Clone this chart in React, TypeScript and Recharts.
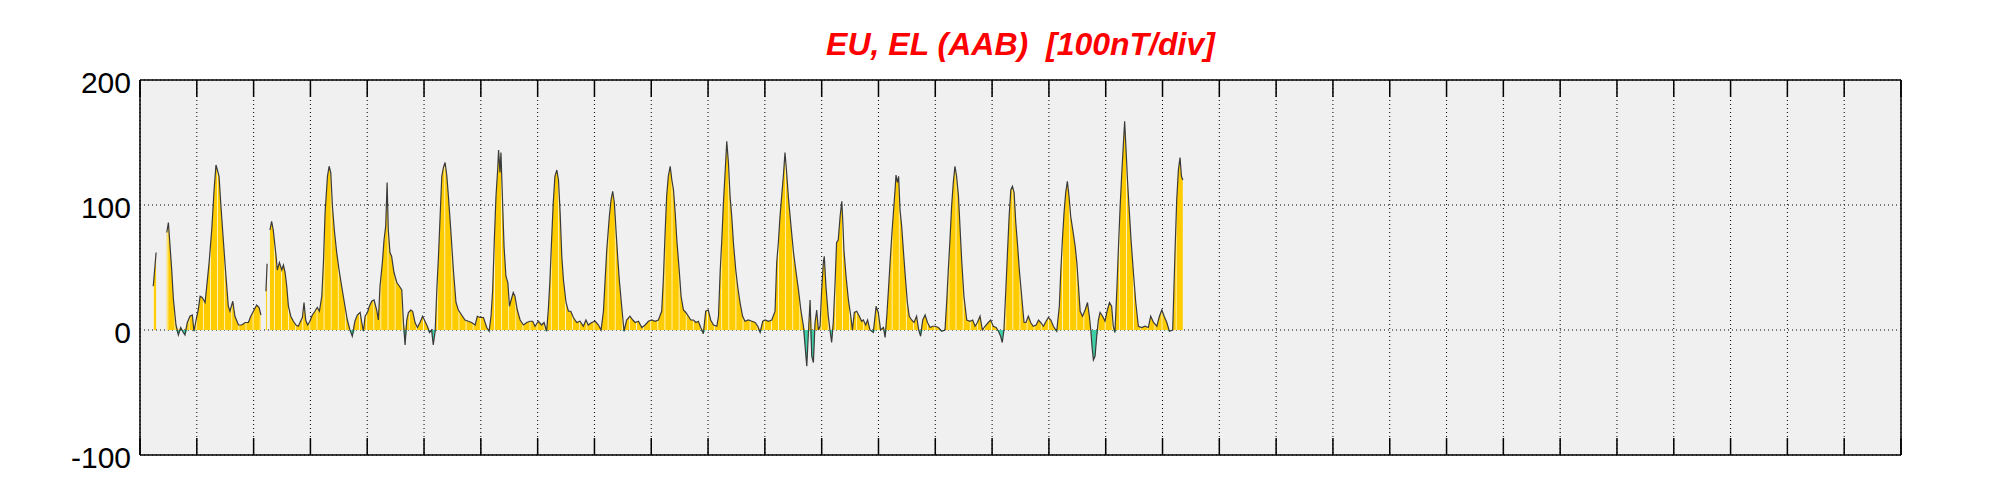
import React from 'react';
import { ComposedChart, Area, Line, XAxis, YAxis, CartesianGrid } from 'recharts';

// Time of each sample, hours since the start of the month
const HOURS: number[] = [
  5.6, 6.8, 7.5, 11.3, 12.0, 13.4, 14.1, 15.2, 16.2, 17.2, 18.3, 19.0, 20.0, 21.1, 22.1, 22.8, 23.7,
  24.6, 25.4, 26.3, 27.5, 28.2, 29.2, 30.3, 31.3, 32.1, 32.7, 33.4, 34.2, 35.2, 36.2, 37.3, 38.0, 39.2,
  40.1, 41.6, 43.0, 44.4, 45.8, 46.8, 47.9, 49.3, 50.3, 51.1, 52.0, 53.2, 53.7, 54.3, 54.9, 55.6, 56.3,
  57.5, 58.0, 58.9, 59.9, 60.6, 61.3, 62.0, 62.7, 63.7, 64.8, 65.9, 66.9, 67.6, 68.6, 69.3, 70.0, 70.8,
  71.8, 72.8, 73.9, 74.9, 75.8, 76.8, 77.5, 78.2, 79.2, 79.9, 80.6, 81.3, 82.1, 83.1, 84.1, 85.2, 86.6,
  87.6, 88.7, 89.7, 90.8, 91.8, 93.0, 93.7, 94.4, 95.1, 96.1, 96.9, 97.9, 98.9, 100.0, 100.7, 101.4,
  102.4, 103.1, 103.8, 104.4, 104.9, 105.6, 106.3, 107.3, 108.5, 109.6, 110.6, 111.3, 112.0, 112.7,
  113.4, 114.4, 115.2, 116.2, 117.2, 118.3, 119.4, 120.4, 121.4, 122.3, 123.2, 123.9, 124.7, 125.4,
  126.1, 126.8, 127.5, 128.2, 128.9, 129.6, 130.3, 131.3, 132.4, 133.5, 134.5, 135.9, 137.3, 138.7,
  140.1, 141.6, 142.5, 143.7, 145.1, 146.5, 147.5, 148.3, 149.0, 149.7, 150.4, 151.1, 151.5, 152.1,
  152.5, 153.1, 153.8, 154.6, 155.4, 156.1, 156.8, 157.7, 158.4, 159.4, 160.6, 162.0, 163.4, 164.8,
  165.9, 166.9, 168.3, 169.7, 170.7, 171.8, 172.5, 173.2, 173.9, 174.6, 175.3, 176.1, 176.8, 177.5,
  178.2, 178.9, 180.0, 181.0, 182.0, 183.1, 184.5, 185.9, 187.3, 188.4, 189.4, 190.8, 192.3, 193.7,
  194.8, 195.8, 196.5, 197.2, 198.3, 199.0, 199.7, 200.4, 201.1, 201.8, 202.5, 203.5, 204.5, 205.6,
  207.0, 208.2, 209.2, 210.6, 212.0, 213.4, 214.8, 216.2, 217.6, 219.0, 220.4, 221.1, 221.8, 222.5,
  223.2, 224.0, 224.7, 225.4, 226.1, 226.8, 227.8, 228.6, 229.6, 230.6, 231.7, 232.7, 233.8, 234.9,
  235.9, 236.9, 238.0, 239.0, 240.1, 241.1, 242.3, 243.7, 244.4, 245.1, 245.8, 246.5, 247.2, 247.9,
  248.6, 249.3, 250.0, 250.7, 251.7, 252.5, 253.5, 254.6, 255.6, 257.0, 258.5, 259.9, 261.0, 262.0,
  263.1, 264.1, 265.5, 266.9, 268.3, 269.0, 269.7, 270.4, 271.1, 271.8, 272.5, 273.2, 273.9, 274.9,
  276.1, 277.2, 278.2, 279.2, 280.3, 281.0, 281.7, 282.4, 283.1, 283.8, 284.5, 285.2, 285.9, 286.6,
  287.3, 288.0, 288.7, 289.1, 289.8, 290.8, 291.5, 292.2, 292.9, 293.6, 294.3, 295.0, 295.8, 296.5,
  296.9, 297.4, 298.3, 299.3, 300.3, 301.0, 301.8, 302.8, 303.9, 304.9, 305.6, 306.6, 307.4, 308.4,
  309.8, 311.0, 311.9, 312.9, 314.1, 314.8, 315.5, 316.2, 316.9, 317.6, 318.3, 319.0, 319.4, 320.0,
  320.5, 321.1, 321.8, 322.5, 323.2, 324.2, 325.0, 326.0, 327.0, 328.1, 329.0, 329.8, 330.7, 331.7,
  332.7, 333.8, 334.9, 335.9, 337.3, 338.7, 340.1, 340.8, 341.5, 342.2, 342.9, 343.6, 344.3, 345.0,
  345.8, 346.5, 347.2, 348.1, 349.3, 350.7, 351.8, 352.8, 353.8, 354.9, 355.9, 357.0, 358.4, 359.4,
  360.5, 361.7, 362.7, 363.6, 364.3, 365.0, 365.8, 366.5, 367.2, 367.9, 368.6, 369.3, 370.0, 370.8,
  371.5, 372.5, 373.5, 374.3, 375.3, 376.3, 377.4, 378.6, 379.6, 380.5, 381.7, 382.8, 383.8, 384.8,
  385.9, 387.3, 388.4, 389.0, 389.7, 390.4, 391.1, 391.8, 392.5, 393.2, 394.1, 395.1, 395.8, 396.5,
  397.2, 398.2, 399.3, 400.3, 401.1, 401.7, 402.2, 402.8, 403.5, 404.2, 404.9, 405.6, 406.7, 407.7,
  408.7, 409.6, 410.5, 411.2, 411.9, 412.7, 413.4, 414.1, 414.8, 415.5, 416.0, 416.6, 417.2, 418.0,
  418.7, 419.7, 420.7, 421.8, 423.2, 424.6, 426.0, 427.0, 428.2, 429.6, 430.7, 431.7, 432.7, 433.8,
  434.9, 436.3, 437.3, 438.0, 438.7, 439.4, 440.0, 440.6,
];

// EU/EL value in nT at each sample (null = missing data)
const VALUES: (number | null)[] = [
  35, 62, null, 78, 86, 48, 25, 4, -4, 2, -2, -4, 6, 11, 12, -1, 8,
  16, 27, 26, 22, 35, 54, 80, 112, 132, 128, 123, 99, 72, 46, 19, 15, 23,
  11, 4, 4, 6, 6, 11, 15, 20, 18, 12, null, 31, 53, null, 80, 87, 80,
  59, 48, 54, 48, 52, 46, 35, 19, 11, 7, 4, 3, 6, 10, 22, 8, 4,
  7, 12, 15, 18, 15, 27, 54, 94, 123, 131, 126, 99, 80, 62, 48, 35, 19,
  8, 0, -5, 7, 12, 14, 6, -1, 11, 14, 19, 23, 24, 16, 8, 35,
  54, 72, 83, 118, 80, 62, 59, 46, 38, 35, 32, 6, -12, 8,
  14, 16, 15, 6, 2, 6, 11, 7, 3, -2, 0, -12, -1, 32,
  59, 91, 123, 130, 134, 124, 107, 80, 48, 22, 16, 12, 8, 7,
  6, 4, 11, 10, 10, 2, -1, 11, 32, 72, 107, 128, 144, 126,
  142, 107, 67, 43, 38, 19, 24, 30, 27, 16, 8, 4, 6, 7,
  7, 3, 7, 4, 6, -1, 16, 40, 72, 102, 123, 128, 120, 94,
  59, 40, 22, 15, 15, 10, 6, 7, 3, 8, 4, 6, 7, 4,
  0, 15, 40, 64, 91, 104, 111, 102, 80, 59, 40, 19, -1, 8,
  11, 8, 6, 7, 2, 4, 7, 8, 7, 8, 15, 40, 75, 107,
  123, 131, 120, 112, 94, 72, 48, 27, 16, 14, 11, 8, 8, 6,
  7, 2, -3, 15, 16, 8, 4, 3, 11, 46, 72, 102, 126, 151,
  134, 107, 91, 70, 48, 35, 22, 11, 7, 8, 7, 6, 3, -2,
  7, 8, 7, 8, 15, 54, 70, 91, 107, 123, 142, 126, 107, 86,
  62, 46, 32, 16, 3, -13, -29, -2, 24, -21, -26, 6, 16, 0,
  3, 32, 54, 59, 35, 11, 0, -10, 6, 35, 70, 72, 91, 103,
  88, 64, 43, 24, 11, 0, 14, 15, 11, 7, 8, 4, 8, 0,
  -2, 19, 14, 0, 2, -6, 11, 32, 54, 75, 94, 112, 124, 118,
  123, 96, 83, 64, 46, 22, 11, 8, 6, 11, 0, -5, 8, 12,
  6, 2, 3, 3, 2, -1, 0, 22, 48, 72, 99, 118, 131, 123,
  107, 80, 54, 27, 8, 7, 8, 3, 6, 11, 0, 3, 6, 8,
  3, 2, -1, -5, -10, 0, 32, 62, 91, 112, 115, 110, 86, 67,
  48, 27, 6, 6, 11, 6, 3, 4, 8, 6, 3, 7, 10, 8,
  3, -1, 19, 46, 72, 94, 110, 119, 107, 91, 80, 67, 54, 35,
  15, 11, 16, 22, 11, 0, -13, -24, -21, -5, 8, 14, 11, 7,
  16, 22, 19, 3, -2, 32, 67, 99, 126, 150, 167, 144, 120, 94,
  72, 46, 22, 3, 2, 3, 2, 11, 6, 3, 11, 16, 11, 6,
  -1, 0, 64, 104, 128, 138, 123, 120,
];

const DAY_TICKS: number[] = Array.from({ length: 32 }, (_, i) => i);
const Y_TICKS: number[] = [-100, 0, 100, 200];
const TITLE = 'EU, EL (AAB)  [100nT/div]';

const CHART_W = 1985;
const CHART_H = 492;
const MARGIN = { top: 72, right: 92, bottom: 45, left: 0 };
const Y_AXIS_W = 132;
const PLOT_W = CHART_W - MARGIN.right - Y_AXIS_W - MARGIN.left;
const STRIPE = PLOT_W / 31 / 8;
const FONT = "'Liberation Sans', Arial, Helvetica, sans-serif";

const data = HOURS.map((h, i) => {
  const v = VALUES[i];
  return {
    t: h / 24,
    v,
    pos: v == null ? null : Math.max(v, 0),
    neg: v == null ? null : Math.min(v, 0),
  };
});

const YTick = (props: any) => (
  <text
    x={props.x}
    y={props.y + 13}
    textAnchor="end"
    fontSize={30}
    fontFamily={FONT}
    fill="#000"
  >
    {props.payload.value}
  </text>
);

const NoLabel = () => <g />;

const axisStroke = { stroke: '#000', strokeWidth: 1.5 };

export default function App() {
  return (
    <div style={{ position: 'relative', width: CHART_W, height: CHART_H }}>
      <div
        style={{
          position: 'absolute',
          left: Y_AXIS_W,
          width: PLOT_W,
          top: 18,
          textAlign: 'center',
          fontFamily: FONT,
          fontWeight: 'bold',
          fontStyle: 'italic',
          fontSize: 32,
          lineHeight: '36px',
          color: '#ff0000',
          whiteSpace: 'pre',
        }}
      >
        {TITLE}
      </div>
      <ComposedChart width={CHART_W} height={CHART_H} data={data} margin={MARGIN}>
        <defs>
          <pattern
            id="euStripes"
            patternUnits="userSpaceOnUse"
            x={Y_AXIS_W - 1}
            y={0}
            width={STRIPE}
            height={8}
          >
            <rect x={0} y={0} width={STRIPE} height={8} fill="#ffcc00" />
            <rect x={0} y={0} width={0.9} height={8} fill="#fff4c4" />
          </pattern>
        </defs>
        <CartesianGrid
          stroke="#000"
          strokeDasharray="1 3"
          fill="#f0f0f0"
          fillOpacity={1}
        />
        <XAxis
          xAxisId={0}
          dataKey="t"
          type="number"
          domain={[0, 31]}
          ticks={DAY_TICKS}
          interval={0}
          orientation="bottom"
          mirror
          height={20}
          tick={<NoLabel />}
          tickSize={17}
          axisLine={axisStroke}
          tickLine={axisStroke}
        />
        <XAxis
          xAxisId="top"
          dataKey="t"
          type="number"
          domain={[0, 31]}
          ticks={DAY_TICKS}
          interval={0}
          orientation="top"
          mirror
          height={20}
          tick={<NoLabel />}
          tickSize={17}
          axisLine={axisStroke}
          tickLine={axisStroke}
        />
        <YAxis
          yAxisId={0}
          type="number"
          domain={[-100, 200]}
          ticks={Y_TICKS}
          interval={0}
          width={Y_AXIS_W}
          tickLine={false}
          tickSize={0}
          tickMargin={9}
          tick={<YTick />}
          axisLine={axisStroke}
        />
        <YAxis
          yAxisId="leftTicks"
          type="number"
          orientation="left"
          mirror
          domain={[-100, 200]}
          ticks={Y_TICKS}
          interval={0}
          width={20}
          tick={<NoLabel />}
          tickSize={17}
          axisLine={false}
          tickLine={axisStroke}
        />
        <YAxis
          yAxisId="right"
          type="number"
          orientation="right"
          mirror
          domain={[-100, 200]}
          ticks={Y_TICKS}
          interval={0}
          width={20}
          tick={<NoLabel />}
          tickSize={17}
          axisLine={axisStroke}
          tickLine={axisStroke}
        />
        <Area
          xAxisId={0}
          yAxisId={0}
          type="linear"
          dataKey="pos"
          baseValue={0}
          fill="url(#euStripes)"
          fillOpacity={1}
          stroke="none"
          isAnimationActive={false}
          dot={false}
          activeDot={false}
        />
        <Area
          xAxisId={0}
          yAxisId={0}
          type="linear"
          dataKey="neg"
          baseValue={0}
          fill="#3ecfa6"
          fillOpacity={1}
          stroke="none"
          isAnimationActive={false}
          dot={false}
          activeDot={false}
        />
        <Line
          xAxisId={0}
          yAxisId={0}
          type="linear"
          dataKey="v"
          stroke="#3a3a3a"
          strokeWidth={1.2}
          dot={false}
          activeDot={false}
          isAnimationActive={false}
        />
      </ComposedChart>
    </div>
  );
}
